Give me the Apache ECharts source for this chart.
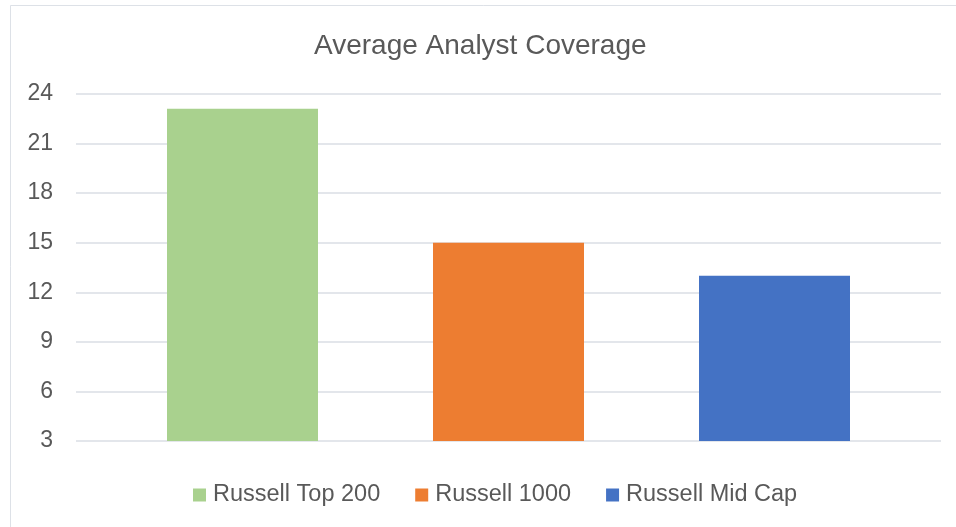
<!DOCTYPE html>
<html>
<head>
<meta charset="utf-8">
<script src="https://cdn.jsdelivr.net/npm/echarts@6/dist/echarts.min.js"></script>
<style>
  html, body { margin: 0; padding: 0; background: #fff; }
  #chart { width: 956px; height: 527px; }
</style>
</head>
<body>
<div id="chart"></div>
<script>
// chart data
const categories = ['Russell Top 200', 'Russell 1000', 'Russell Mid Cap'];
const seriesNames = ['Russell Top 200', 'Russell 1000', 'Russell Mid Cap'];
const seriesValues = [23.1, 15, 13];
const colors = ['#a9d18e', '#ed7d31', '#4472c4'];
const yTicks = [3, 6, 9, 12, 15, 18, 21, 24];

let myChart = echarts.init(document.getElementById('chart'));
let textFont = "'Liberation Sans', Arial, sans-serif";

// one series per bar so each gets its own legend entry; '-' keeps other slots empty
let series = seriesNames.map((name, i) => {
    let data = categories.map((c, j) => (j === i ? seriesValues[i] : '-'));
    return {
        name: name,
        type: 'bar',
        xAxisIndex: 1,
        yAxisIndex: 1,
        stack: 'all',
        barWidth: 151,
        data: data,
        itemStyle: { color: colors[i] }
    };
});

let option = {
    backgroundColor: '#fff',
    animation: false,
    color: colors,
    title: {
        text: 'Average Analyst Coverage',
        left: 309,
        top: 27,
        textStyle: {
            fontFamily: textFont,
            fontSize: 28,
            fontWeight: 'normal',
            color: '#595959'
        }
    },
    legend: {
        data: seriesNames,
        left: 188,
        top: 478,
        itemWidth: 13,
        itemHeight: 13,
        itemGap: 35,
        icon: 'rect',
        textStyle: {
            fontFamily: textFont,
            fontSize: 23.5,
            color: '#595959',
            padding: [0, 0, 0, 2]
        }
    },
    graphic: [{
        type: 'rect',
        shape: { x: 10.5, y: 5.5, width: 1000, height: 600 },
        style: { fill: 'none', stroke: '#dde1e7', lineWidth: 1 },
        silent: true,
        z: -1
    }],
    // grid 0: y labels and gridlines, grid 1: bars
    grid: [
        { left: 76, right: 15, top: 94, bottom: 86 },
        { left: 109.5, right: 48.5, top: 94, bottom: 86 }
    ],
    xAxis: [
        {
            gridIndex: 0,
            type: 'category',
            data: categories,
            show: false
        },
        {
            gridIndex: 1,
            type: 'category',
            data: categories,
            axisLine: { show: false },
            axisTick: { show: false },
            axisLabel: { show: false }
        }
    ],
    yAxis: [
        {
            gridIndex: 0,
            type: 'value',
            min: yTicks[0],
            max: yTicks[yTicks.length - 1],
            interval: 3,
            axisLine: { show: false },
            axisTick: { show: false },
            axisLabel: {
                margin: 23,
                fontFamily: textFont,
                fontSize: 23,
                color: '#595959'
            },
            splitLine: { lineStyle: { color: '#e3e6eb', width: 2 } }
        },
        {
            gridIndex: 1,
            type: 'value',
            min: yTicks[0],
            max: yTicks[yTicks.length - 1],
            interval: 3,
            show: false,
            splitLine: { show: false }
        }
    ],
    series: series
};

myChart.setOption(option);
</script>
</body>
</html>
